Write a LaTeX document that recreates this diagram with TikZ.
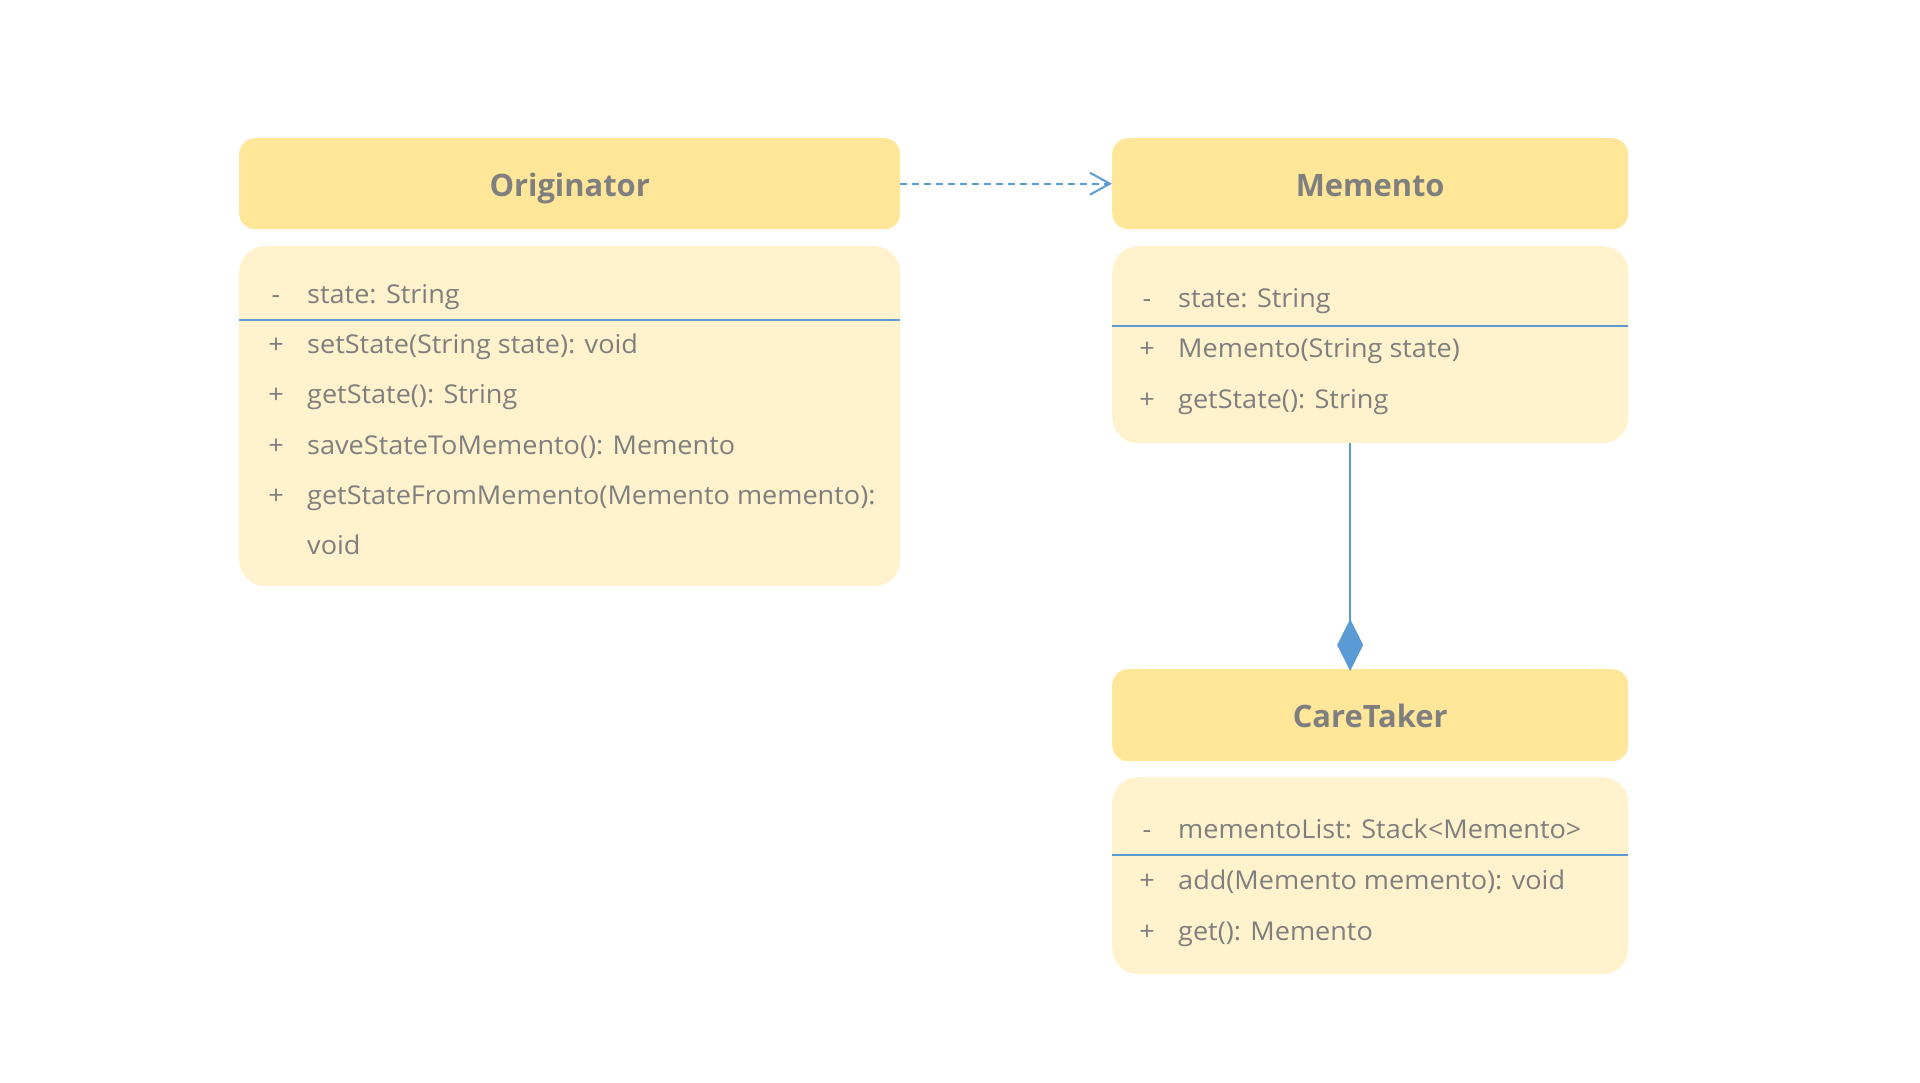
\documentclass[tikz,border=0pt]{standalone}
\usepackage{fontspec}
\setmainfont{Open Sans}
\newfontfamily\memberfont[FakeStretch=1.045]{Open Sans}
\usetikzlibrary{arrows.meta,calc}
\definecolor{headfill}{HTML}{FFE699}
\definecolor{bodyfill}{HTML}{FFF2CC}
\definecolor{txtgray}{HTML}{7F7F7F}
\definecolor{conblue}{HTML}{5B9BD5}
\tikzset{
  headbox/.style={fill=headfill, draw=none, rounded corners=16bp, anchor=north west, inner sep=0pt},
  titletext/.style={anchor=base, inner sep=0pt, text=txtgray, font=\bfseries\fontsize{31}{31}\selectfont},
  bodybox/.style={fill=bodyfill, draw=none, rounded corners=26bp, anchor=north west, inner sep=0pt},
  member/.style={anchor=base west, inner sep=0pt, text=txtgray, font=\memberfont\fontsize{26}{26}\selectfont},
  marker/.style={anchor=base, inner sep=0pt, text=txtgray, font=\memberfont\fontsize{26}{26}\selectfont},
  divider/.style={draw=conblue, line width=1.2bp},
  conn/.style={draw=conblue, line width=2bp}
}
\begin{document}
\begin{tikzpicture}[x=1bp,y=-1bp]
\useasboundingbox (0,0) rectangle (1920,1082);
% Originator
\node[headbox, minimum width=661bp, minimum height=91bp] (ohead) at (239,138) {};
\node[titletext] (otitle) at ($(ohead.center)+(0,12.5)$) {Originator};
\node[bodybox, minimum width=661bp, minimum height=340bp] (obody) at (239,246) {};
\draw[divider] (239,320) coordinate (od1) -- (900,320) coordinate (od2);
\node[marker] (om1) at (276,303) {-};
\node[member] (ot1) at (307,303) {state: String};
\node[marker] (om2) at (276,353) {+};
\node[member] (ot2) at (307,353) {setState(String state): void};
\node[marker] (om3) at (276,403) {+};
\node[member] (ot3) at (307,403) {getState(): String};
\node[marker] (om4) at (276,454) {+};
\node[member] (ot4) at (307,454) {saveStateToMemento(): Memento};
\node[marker] (om5) at (276,504) {+};
\node[member] (ot5) at (307,504) {getStateFromMemento(Memento memento):};
\node[member] (ot6) at (307,554) {void};
% Memento
\node[headbox, minimum width=516bp, minimum height=91bp] (mhead) at (1112,138) {};
\node[titletext] (mtitle) at ($(mhead.center)+(0,12.5)$) {Memento};
\node[bodybox, minimum width=516bp, minimum height=197bp] (mbody) at (1112,246) {};
\draw[divider] (1112,326) coordinate (md1) -- (1628,326) coordinate (md2);
\node[marker] (mm1) at (1147,307) {-};
\node[member] (mt1) at (1178,307) {state: String};
\node[marker] (mm2) at (1147,357) {+};
\node[member] (mt2) at (1178,357) {Memento(String state)};
\node[marker] (mm3) at (1147,408) {+};
\node[member] (mt3) at (1178,408) {getState(): String};
% CareTaker
\node[headbox, minimum width=516bp, minimum height=92bp] (chead) at (1112,669) {};
\node[titletext] (ctitle) at ($(chead.center)+(0,12.5)$) {CareTaker};
\node[bodybox, minimum width=516bp, minimum height=197bp] (cbody) at (1112,777) {};
\draw[divider] (1112,855) coordinate (cd1) -- (1628,855) coordinate (cd2);
\node[marker] (cm1) at (1147,838) {-};
\node[member] (ct1) at (1178,838) {mementoList: Stack<Memento>};
\node[marker] (cm2) at (1147,889) {+};
\node[member] (ct2) at (1178,889) {add(Memento memento): void};
\node[marker] (cm3) at (1147,940) {+};
\node[member] (ct3) at (1178,940) {get(): Memento};
% connectors
\draw[conn, dash pattern=on 7bp off 5bp, -{Straight Barb[length=20bp,width=22bp]}] (ohead.east) -- (mhead.west);
\draw[conn, -{Diamond[length=52bp,width=26bp]}] ($(mbody.south)+(-20,0)$) -- ($(chead.north)+(-20,2)$);
\end{tikzpicture}
\end{document}
